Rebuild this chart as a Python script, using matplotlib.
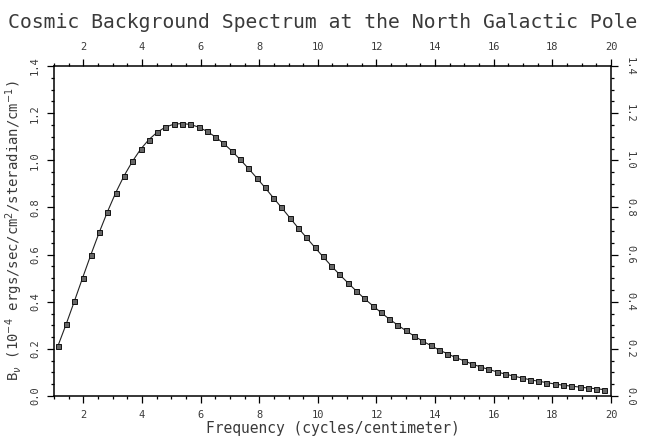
import numpy as np
import matplotlib.pyplot as plt
from matplotlib.ticker import MultipleLocator

# frequency channels (cycles/cm) and measured brightness (1e-4 ergs/sec/cm^2/sr/cm^-1)
freq = [
    1.130, 1.413, 1.695, 1.978, 2.260, 2.543, 2.825, 3.108, 3.390, 3.673,
    3.955, 4.238, 4.520, 4.803, 5.085, 5.368, 5.650, 5.933, 6.215, 6.498,
    6.780, 7.063, 7.345, 7.628, 7.910, 8.193, 8.475, 8.758, 9.040, 9.323,
    9.605, 9.888, 10.170, 10.453, 10.735, 11.018, 11.300, 11.583, 11.865, 12.148,
    12.430, 12.713, 12.995, 13.278, 13.560, 13.843, 14.125, 14.408, 14.690, 14.973,
    15.255, 15.538, 15.820, 16.103, 16.385, 16.668, 16.950, 17.233, 17.515, 17.798,
    18.080, 18.363, 18.645, 18.928, 19.210, 19.493, 19.775,
]
brightness = [
    0.211, 0.304, 0.402, 0.502, 0.600, 0.694, 0.782, 0.863, 0.934, 0.995,
    1.047, 1.088, 1.119, 1.141, 1.153, 1.156, 1.152, 1.141, 1.123, 1.100,
    1.072, 1.040, 1.004, 0.966, 0.926, 0.885, 0.842, 0.800, 0.757, 0.714,
    0.673, 0.632, 0.592, 0.553, 0.516, 0.481, 0.447, 0.414, 0.384, 0.355,
    0.327, 0.302, 0.278, 0.255, 0.234, 0.215, 0.196, 0.180, 0.164, 0.150,
    0.136, 0.124, 0.113, 0.103, 0.093, 0.085, 0.077, 0.069, 0.063, 0.057,
    0.051, 0.046, 0.042, 0.038, 0.034, 0.031, 0.027,
]

x_ticks = [2, 4, 6, 8, 10, 12, 14, 16, 18, 20]
y_ticks = [0.0, 0.2, 0.4, 0.6, 0.8, 1.0, 1.2, 1.4]

plt.rcParams["font.family"] = ["DejaVu Sans Mono", "DejaVu Sans"]
text_color = "#3a3a3a"

fig = plt.figure(figsize=(6.45, 4.36), dpi=100)
ax = fig.add_axes([0.0837, 0.0917, 0.8636, 0.7569])

ax.plot(freq, brightness, color="#222222", linewidth=0.8,
        marker="s", markersize=3.6, markerfacecolor="#666666",
        markeredgecolor="#111111", markeredgewidth=0.7)

ax.set_xlim(1, 20)
ax.set_ylim(0, 1.4)
ax.set_xticks(x_ticks)
ax.set_yticks(y_ticks)
ax.xaxis.set_minor_locator(MultipleLocator(0.5))
ax.yaxis.set_minor_locator(MultipleLocator(0.05))

ax.tick_params(which="both", direction="out", top=True, right=True,
               labeltop=True, labelright=True, colors="black",
               labelcolor=text_color, labelsize=7.5, width=0.9, pad=5)
ax.tick_params(which="major", length=5)
ax.tick_params(which="minor", length=2.5)
ax.set_yticklabels([f"{v:.1f}" for v in y_ticks])
for tick in ax.yaxis.get_major_ticks():
    tick.label1.set_rotation(90)
    tick.label1.set_va("center")
    tick.label2.set_rotation(-90)
    tick.label2.set_va("center")

for spine in ax.spines.values():
    spine.set_linewidth(1.1)

ax.set_xlabel("Frequency (cycles/centimeter)", fontsize=10.5,
              color=text_color, labelpad=1)
ax.set_ylabel(r"B$_\nu$ (10$^{-4}$ ergs/sec/cm$^2$/steradian/cm$^{-1}$)",
              fontsize=10, color=text_color, labelpad=4)
fig.text(0.5, 0.948, "Cosmic Background Spectrum at the North Galactic Pole",
         ha="center", va="center", fontsize=14.2, color=text_color)

fig.savefig("out.png", dpi=100, facecolor="white")
